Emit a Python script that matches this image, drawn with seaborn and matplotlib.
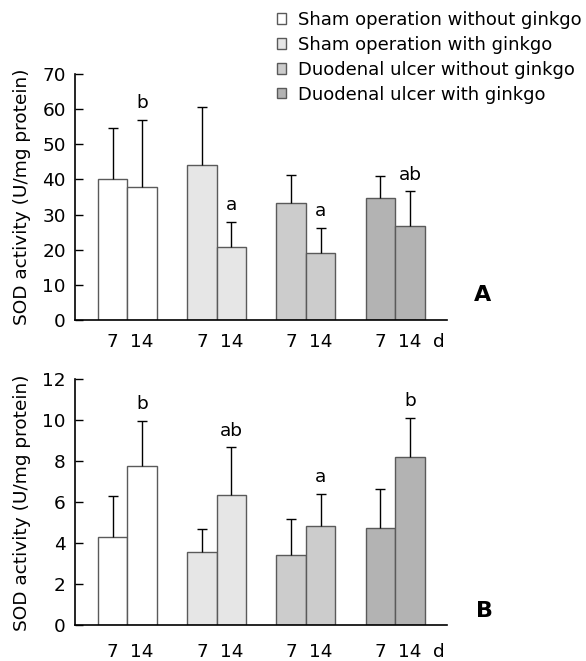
import numpy as np
import pandas as pd
import matplotlib
matplotlib.use("Agg")
import matplotlib.pyplot as plt
import seaborn as sns
from matplotlib.patches import Patch

sns.set_theme(style="ticks")
plt.rcParams['font.family'] = ['DejaVu Sans']
plt.rcParams.update({"text.color": "black", "axes.labelcolor": "black",
                     "xtick.color": "black", "ytick.color": "black"})

groups = ["Sham operation without ginkgo", "Sham operation with ginkgo",
          "Duodenal ulcer without ginkgo", "Duodenal ulcer with ginkgo"]
days = ["7", "14"]
colors = ["#ffffff", "#e6e6e6", "#cccccc", "#b3b3b3"]

a_day7 = [40.2, 44.2, 33.3, 34.8]
a_day14 = [37.9, 20.9, 19.2, 26.8]
a_sd7 = [14.4, 16.3, 8.1, 6.2]
a_sd14 = [19.1, 7.1, 7.0, 9.8]
a_letters14 = ["b", "a", "a", "ab"]

b_day7 = [4.29, 3.56, 3.44, 4.73]
b_day14 = [7.77, 6.37, 4.86, 8.19]
b_sd7 = [2.0, 1.15, 1.76, 1.93]
b_sd14 = [2.2, 2.31, 1.53, 1.94]
b_letters14 = ["b", "ab", "a", "b"]

fig = plt.figure(figsize=(5.86, 6.61), dpi=100)
ax1 = fig.add_axes([75/586, 341/661, 372/586, 246/661])
ax2 = fig.add_axes([75/586, 35.7/661, 372/586, 246/661])

FS = 13.3


def panel(ax, v7, v14, s7, s14, letters, ymax, step, xpad):
    df = pd.DataFrame({
        "group": groups * 2,
        "day": [days[0]] * 4 + [days[1]] * 4,
        "value": v7 + v14,
    })
    sns.barplot(data=df, x="group", y="value", hue="day", order=groups,
                hue_order=days, width=0.66, ax=ax, errorbar=None,
                edgecolor="#5a5a5a", linewidth=1.0, legend=False)
    sds = [s7, s14]
    centers = []
    labels = []
    for ci, cont in enumerate(ax.containers):
        for gi, bar in enumerate(cont):
            bar.set_facecolor(colors[gi])
            x = bar.get_x() + bar.get_width() / 2
            y = bar.get_height()
            top = y + sds[ci][gi]
            ax.vlines(x, y, top, color="black", lw=1.0, zorder=3)
            ax.hlines(top, x - 0.056, x + 0.056, color="black", lw=1.0, zorder=3)
            centers.append(x)
            labels.append(days[ci])
            if ci == 1 and letters[gi]:
                ax.annotate(letters[gi], (x, top), xytext=(0, 8.5),
                            textcoords="offset points", ha="center",
                            va="baseline", fontsize=FS)
    ax.set_xticks(centers)
    ax.set_xticklabels(labels, fontsize=FS)
    ax.tick_params(axis="x", length=0, pad=xpad)
    ax.tick_params(axis="y", length=6, width=1.0, labelsize=FS, pad=6.5,
                   direction="in", color="black")
    ax.set_ylim(0, ymax)
    ax.set_yticks(np.arange(0, ymax + 0.01, step))
    ax.set_xlim(-0.586, 3.58)
    ax.set_xlabel("")
    ax.set_ylabel("SOD activity (U/mg protein)", fontsize=FS, labelpad=8)
    for s in ["top", "right"]:
        ax.spines[s].set_visible(False)
    for s in ["left", "bottom"]:
        ax.spines[s].set_linewidth(1.2)
        ax.spines[s].set_color("black")
    last = max(centers)
    ax.annotate("d", (last, 0), xycoords="data", xytext=(16.5, -xpad),
                textcoords="offset points", ha="left", va="top", fontsize=FS)
    return ax


panel(ax1, a_day7, a_day14, a_sd7, a_sd14, a_letters14, 70, 10, 9.5)
panel(ax2, b_day7, b_day14, b_sd7, b_sd14, b_letters14, 12, 2, 12.5)

fig.text(483/586, 1 - 295/661, "A", fontsize=16, fontweight="bold",
         ha="center", va="center")
fig.text(484/586, 1 - 611/661, "B", fontsize=16, fontweight="bold",
         ha="center", va="center")

handles = [Patch(facecolor=c, edgecolor="#5a5a5a", linewidth=1.0) for c in colors]
fig.legend(handles, groups, loc="upper left", bbox_to_anchor=(277/586, 1 - 11/661),
           frameon=False, fontsize=13, handlelength=0.52, handleheight=0.52,
           handletextpad=0.62, labelspacing=0.38, borderpad=0, borderaxespad=0)

fig.savefig("out.png", dpi=100)
